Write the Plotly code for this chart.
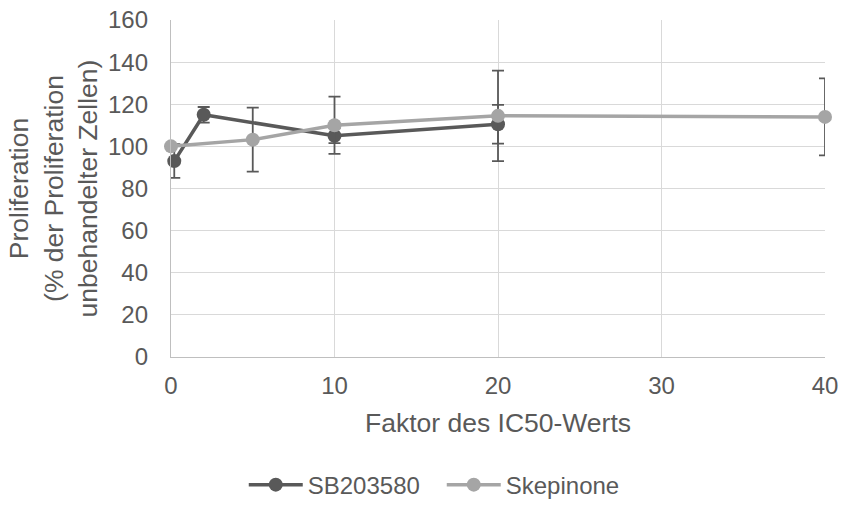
import plotly.graph_objects as go

# Proliferation relative to untreated cells, by multiple of the IC50 value
sb_x = [0.2, 2, 10, 20]
sb_y = [93, 115, 105, 110.5]
sb_err = [8, 3.7, 3.5, 9.2]

sk_x = [0, 5, 10, 20, 40]
sk_y = [100, 103.2, 110, 114.5, 114]
sk_err = [0, 15.2, 13.6, 21.5, 18.3]

x_ticks = [0, 10, 20, 30, 40]
y_ticks = [0, 20, 40, 60, 80, 100, 120, 140, 160]

DARK = "#595959"
LIGHT = "#A5A5A5"
GRID = "#D9D9D9"
FONT = "Liberation Sans, Arial, sans-serif"
TICK_FS = 24
TITLE_FS = 26.5

fig = go.Figure()

fig.add_trace(go.Scatter(
    x=sb_x, y=sb_y, name="SB203580", mode="lines+markers",
    line=dict(color=DARK, width=3.5),
    marker=dict(color=DARK, size=14),
    cliponaxis=False,
    error_y=dict(type="data", array=sb_err, visible=True,
                 color=DARK, thickness=1.8, width=6),
))
fig.add_trace(go.Scatter(
    x=sk_x, y=sk_y, name="Skepinone", mode="lines+markers",
    line=dict(color=LIGHT, width=3.5),
    marker=dict(color=LIGHT, size=14),
    cliponaxis=False,
    error_y=dict(type="data", array=sk_err, visible=True,
                 color=DARK, thickness=1.8, width=6),
))

fig.update_layout(
    width=841, height=508,
    margin=dict(l=171, r=16, t=20, b=151, autoexpand=False),
    paper_bgcolor="white", plot_bgcolor="white",
    font=dict(family=FONT, size=TICK_FS, color=DARK),
    legend=dict(orientation="h", x=0.414, xanchor="center",
                y=-0.38, yanchor="middle",
                font=dict(size=TICK_FS, color=DARK),
                itemwidth=54, entrywidth=129),
)

fig.update_xaxes(
    range=[0, 40], tickvals=x_ticks,
    showgrid=True, gridcolor=GRID, gridwidth=1.3,
    showline=True, linecolor="#BFBFBF", linewidth=1.3,
    zeroline=False,
    ticks="outside", ticklen=7, tickcolor="rgba(0,0,0,0)",
    tickfont=dict(size=TICK_FS, color=DARK),
    title=dict(text="Faktor des IC50-Werts", standoff=15,
               font=dict(size=TITLE_FS, color=DARK)),
)
fig.update_yaxes(
    range=[0, 160], tickvals=y_ticks,
    showgrid=True, gridcolor=GRID, gridwidth=1.3,
    showline=True, linecolor="#BFBFBF", linewidth=1.3,
    zeroline=False,
    ticks="outside", ticklen=17, tickcolor="rgba(0,0,0,0)",
    tickfont=dict(size=TICK_FS, color=DARK),
    title=dict(text="Proliferation<br>(% der Proliferation<br>unbehandelter Zellen)",
               standoff=2, font=dict(size=TITLE_FS, color=DARK)),
)

fig.write_html("out.html")
